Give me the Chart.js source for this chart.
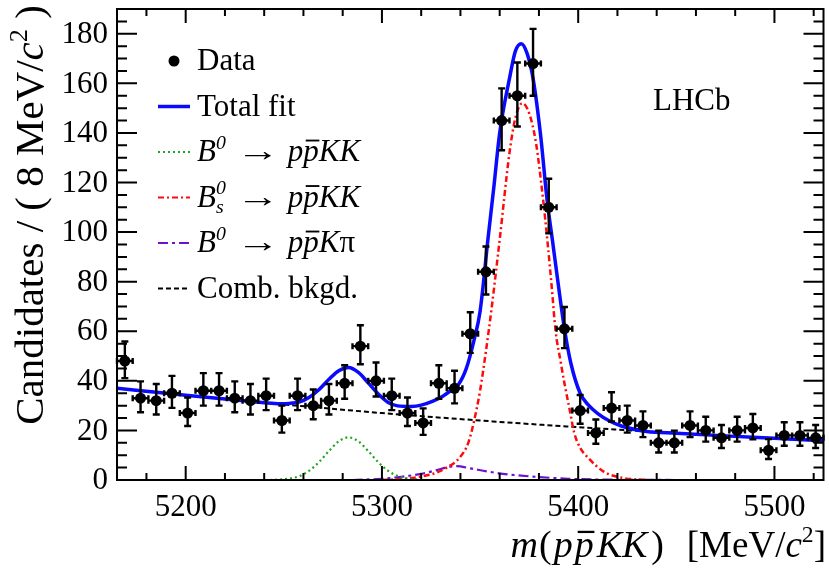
<!DOCTYPE html>
<html>
<head>
<meta charset="utf-8">
<script src="https://cdn.jsdelivr.net/npm/chart.js@4.4.1/dist/chart.umd.min.js"></script>
<style>
  html, body { margin: 0; padding: 0; background: #fff; }
  #wrap { width: 829px; height: 569px; }
</style>
</head>
<body>
<div id="wrap"><canvas id="plot" width="829" height="569"></canvas></div>
<script>
// bin centres (8 MeV bins) and counts
const massBins = [5169, 5177, 5185, 5193, 5201, 5209, 5217, 5225, 5233, 5241, 5249, 5257, 5265, 5273, 5281,
  5289, 5297, 5305, 5313, 5321, 5329, 5337, 5345, 5353, 5361, 5369, 5377, 5385, 5393, 5401,
  5409, 5417, 5425, 5433, 5441, 5449, 5457, 5465, 5473, 5481, 5489, 5497, 5505, 5513, 5521];
const candidates = [48, 33, 32, 35, 27, 36, 36, 33, 32, 34, 24, 34, 30, 32, 39,
  54, 40, 34, 27, 23, 39, 37, 59, 84, 145, 155, 168, 110, 61, 28,
  19, 29, 24, 22, 15, 15, 22, 20, 17, 20, 21, 12, 18, 18, 17];
const errLow = [6.9, 5.7, 5.6, 5.9, 5.2, 6.0, 6.0, 5.7, 5.6, 5.8, 4.9, 5.8, 5.5, 5.6, 6.2,
  7.3, 6.3, 5.8, 5.2, 4.8, 6.2, 6.1, 7.7, 9.2, 12.0, 12.4, 13.0, 10.5, 7.8, 5.3,
  4.4, 5.4, 4.9, 4.7, 3.9, 3.9, 4.7, 4.5, 4.1, 4.5, 4.6, 3.5, 4.2, 4.2, 4.1];
const errHigh = [7.9, 6.8, 6.7, 7.0, 6.3, 7.1, 7.1, 6.8, 6.7, 6.9, 6.0, 6.9, 6.5, 6.7, 7.3,
  8.4, 7.4, 6.9, 6.3, 5.9, 7.3, 7.1, 8.7, 10.2, 13.0, 13.4, 14.0, 11.5, 8.8, 6.3,
  5.4, 6.4, 6.0, 5.7, 4.9, 4.9, 5.7, 5.5, 5.2, 5.5, 5.6, 4.5, 5.3, 5.3, 5.2];
const binHalfWidth = 4;

// fit curves, sampled from the figure
const totalMass = [5165, 5185, 5200, 5220, 5240, 5248, 5253, 5258, 5263, 5268, 5273, 5278, 5283, 5288, 5293,
  5298, 5303, 5308, 5315, 5320, 5326, 5331, 5335, 5339, 5343, 5347, 5350, 5354, 5357, 5360,
  5365, 5368, 5371, 5374, 5377, 5381, 5384, 5387, 5389.5, 5393, 5396.3, 5401, 5405, 5410, 5416,
  5422, 5435, 5450, 5475, 5500, 5525];
const totalFit = [37.0, 35.4, 34.2, 32.7, 31.2, 30.8, 30.9, 31.5, 33.4, 36.5, 40.6, 44.1, 45.4, 43.4, 39.2,
  34.8, 31.4, 29.9, 29.7, 30.2, 31.8, 33.8, 36.0, 38.5, 45.0, 56.6, 68, 97, 118, 140,
  162, 173, 176, 172, 162, 138, 114, 96, 81, 61, 47, 35, 30.4, 26.8, 23.8,
  21.8, 19.6, 18.9, 17.8, 16.8, 15.8];

const b0KKMass = [5243, 5248, 5253, 5258, 5263, 5268, 5273, 5278, 5283, 5288, 5293, 5298, 5303, 5308, 5313, 5318, 5323];
const b0KK = [0, 0.2, 0.6, 1.6, 3.8, 7.3, 11.7, 15.6, 17.2, 15.6, 11.7, 7.3, 3.8, 1.6, 0.6, 0.2, 0];

const bsKKMass = [5300, 5310, 5320, 5328, 5333, 5339, 5344, 5347, 5350, 5353, 5356, 5360, 5365, 5368, 5371.5,
  5375, 5378.5, 5382, 5384.5, 5386.5, 5388.5, 5391, 5393, 5395.5, 5398, 5401, 5405, 5413, 5423, 5435];
const bsKK = [0, 0.4, 1.4, 3, 5, 8.5, 15, 24, 36, 52, 70, 97, 132, 146, 152,
  148, 136, 114, 95, 78, 60, 48, 39, 29, 19, 13, 9, 3.4, 0.8, 0];

const b0KpiMass = [5285, 5300, 5310, 5320, 5328, 5334, 5338, 5345, 5354, 5365, 5380, 5395, 5410, 5430, 5450];
const b0Kpi = [0, 0.5, 1.3, 2.5, 4, 5.3, 5.6, 4.7, 3.4, 2.2, 1.2, 0.5, 0.2, 0.05, 0];

const combMass = [5165, 5200, 5250, 5300, 5350, 5400, 5450, 5500, 5525];
const combBkg = [37.0, 34.2, 30.5, 27.0, 24.0, 21.3, 18.9, 16.8, 15.8];

const yTicks = [0, 20, 40, 60, 80, 100, 120, 140, 160, 180];
const xTicks = [5200, 5300, 5400, 5500];

const SERIF = '"Liberation Serif", "Times New Roman", serif';
const colors = {
  total: "#0a0aff",
  b0KK: "#1fa51f",
  bsKK: "#ff0a0a",
  b0Kpi: "#6a12d0",
  comb: "#000000",
};
const dashes = {
  b0KK: [2, 3],
  bsKK: [6, 3, 2, 3],
  b0Kpi: [10, 4, 3, 4],
  comb: [5, 3],
};

function pairs(xs, ys) {
  return xs.map((x, i) => ({ x, y: ys[i] }));
}

function curve(label, xs, ys, color, width, dash, order) {
  return {
    label,
    data: pairs(xs, ys),
    borderColor: color,
    borderWidth: width,
    borderDash: dash,
    pointRadius: 0,
    fill: false,
    cubicInterpolationMode: "monotone",
    order,
  };
}

// ---- text helpers (math-ish runs: italic, sup, sub, overline, stretch, gap) ----
function runFont(r, size) {
  const s = r.sup || r.sub ? size * 0.64 : size;
  return `${r.it ? "italic " : ""}${s}px ${SERIF}`;
}

function runAdvance(ctx, r, size) {
  ctx.font = runFont(r, size);
  return ctx.measureText(r.t).width * (r.sx || 1) + (r.gap || 0);
}

function runsWidth(ctx, runs, size) {
  let w = 0;
  let held = 0;
  for (const r of runs) {
    const m = runAdvance(ctx, r, size);
    if (r.hold) { held = m; continue; }
    w += Math.max(m, held);
    held = 0;
  }
  return w;
}

function drawRuns(ctx, runs, x, y, size, align) {
  const total = runsWidth(ctx, runs, size);
  let cx = align === "right" ? x - total : align === "center" ? x - total / 2 : x;
  let held = 0;
  ctx.textAlign = "left";
  ctx.textBaseline = "alphabetic";
  for (const r of runs) {
    ctx.font = runFont(r, size);
    const m = ctx.measureText(r.t).width * (r.sx || 1);
    let dy = 0;
    if (r.sup) dy = -size * 0.4;
    if (r.sub) dy = size * 0.22;
    ctx.save();
    ctx.translate(cx, y + dy);
    if (r.sx) ctx.scale(r.sx, 1);
    ctx.fillText(r.t, 0, 0);
    ctx.restore();
    if (r.over) {
      ctx.save();
      ctx.lineWidth = size * 0.06;
      ctx.beginPath();
      ctx.moveTo(cx + size * 0.08, y - size * 0.66);
      ctx.lineTo(cx + m + size * 0.02, y - size * 0.66);
      ctx.stroke();
      ctx.restore();
    }
    const adv = m + (r.gap || 0);
    if (r.hold) { held = adv; continue; }
    cx += Math.max(adv, held);
    held = 0;
  }
}

const arrowRuns = [{ t: " " }, { t: "\u2192", sx: 1.4 }, { t: " " }];
const ppKK = arrowRuns.concat([
  { t: "p", it: true }, { t: "p", it: true, over: true }, { t: "KK", it: true },
]);

const legendRows = [
  { kind: "data", runs: [{ t: "Data" }] },
  { kind: "total", runs: [{ t: "Total fit" }] },
  { kind: "b0KK", runs: [{ t: "B", it: true }, { t: "0", it: true, sup: true, gap: 3 }].concat(ppKK) },
  { kind: "bsKK", runs: [{ t: "B", it: true }, { t: "s", it: true, sub: true, hold: true }, { t: "0", it: true, sup: true, gap: 3 }].concat(ppKK) },
  { kind: "b0Kpi", runs: [{ t: "B", it: true }, { t: "0", it: true, sup: true, gap: 3 }].concat(arrowRuns, [
    { t: "p", it: true }, { t: "p", it: true, over: true }, { t: "K", it: true }, { t: "\u03c0" }]) },
  { kind: "comb", runs: [{ t: "Comb. bkgd." }] },
];

function drawErrorBars(chart) {
  const ctx = chart.ctx;
  const xs = chart.scales.x;
  const ys = chart.scales.y;
  ctx.save();
  ctx.strokeStyle = "#000";
  ctx.lineWidth = 2.4;
  ctx.beginPath();
  massBins.forEach((m, i) => {
    const px = xs.getPixelForValue(m);
    const py = ys.getPixelForValue(candidates[i]);
    const top = ys.getPixelForValue(candidates[i] + errHigh[i]);
    const bot = ys.getPixelForValue(candidates[i] - errLow[i]);
    const left = xs.getPixelForValue(m - binHalfWidth);
    const right = xs.getPixelForValue(m + binHalfWidth);
    ctx.moveTo(px, top); ctx.lineTo(px, bot);
    ctx.moveTo(px - 3.5, top); ctx.lineTo(px + 3.5, top);
    ctx.moveTo(px - 3.5, bot); ctx.lineTo(px + 3.5, bot);
    ctx.moveTo(left, py); ctx.lineTo(right, py);
    ctx.moveTo(left, py - 3); ctx.lineTo(left, py + 3);
    ctx.moveTo(right, py - 3); ctx.lineTo(right, py + 3);
  });
  ctx.stroke();
  ctx.restore();
}

function drawFrame(chart) {
  const ctx = chart.ctx;
  const a = chart.chartArea;
  const xs = chart.scales.x;
  const ys = chart.scales.y;
  ctx.save();
  ctx.strokeStyle = "#000";
  ctx.lineWidth = 2;
  ctx.strokeRect(a.left, a.top, a.right - a.left, a.bottom - a.top);
  ctx.beginPath();
  for (let v = 0; v <= ys.max; v += 5) {
    const py = ys.getPixelForValue(v);
    const len = v % 20 === 0 ? 20 : 10;
    ctx.moveTo(a.left, py); ctx.lineTo(a.left + len, py);
    ctx.moveTo(a.right, py); ctx.lineTo(a.right - len, py);
  }
  for (let v = 5180; v <= xs.max; v += 20) {
    const px = xs.getPixelForValue(v);
    const len = v % 100 === 0 ? 14 : 7;
    ctx.moveTo(px, a.bottom); ctx.lineTo(px, a.bottom - len);
    ctx.moveTo(px, a.top); ctx.lineTo(px, a.top + len);
  }
  ctx.stroke();
  ctx.restore();
}

function drawTexts(chart) {
  const ctx = chart.ctx;
  const a = chart.chartArea;
  const xs = chart.scales.x;
  const ys = chart.scales.y;
  ctx.save();
  ctx.fillStyle = "#000";
  ctx.strokeStyle = "#000";

  ctx.font = `31px ${SERIF}`;
  ctx.textAlign = "right";
  ctx.textBaseline = "middle";
  yTicks.forEach((v) => ctx.fillText(String(v), a.left - 9, ys.getPixelForValue(v) + 1));
  ctx.textAlign = "center";
  ctx.textBaseline = "alphabetic";
  xTicks.forEach((v) => ctx.fillText(String(v), xs.getPixelForValue(v), 516));

  // axis titles
  drawRuns(ctx, [{ t: "[MeV/" }, { t: "c", it: true }, { t: "2", sup: true }, { t: "]" }], 826, 557, 37, "right");
  drawRuns(ctx, [
    { t: "m", it: true, gap: 1 }, { t: "(", gap: 2 }, { t: "p", it: true, gap: 2 }, { t: "p", it: true, over: true, gap: 3 },
    { t: "K", it: true }, { t: "K", it: true, gap: 4 }, { t: ")" },
  ], 664, 557, 38, "right");

  ctx.save();
  ctx.translate(43, 215);
  ctx.rotate(-Math.PI / 2);
  drawRuns(ctx, [
    { t: "Candidates / ( 8 MeV/" }, { t: "c", it: true }, { t: "2", sup: true }, { t: " )" },
  ], 0, 0, 41, "center");
  ctx.restore();

  ctx.font = `31px ${SERIF}`;
  ctx.textAlign = "left";
  ctx.fillText("LHCb", 653, 110);

  // legend
  legendRows.forEach((row, i) => {
    const base = 70 + i * 45.5;
    const my = base - 9;
    ctx.save();
    if (row.kind === "data") {
      ctx.beginPath();
      ctx.arc(174, my, 5.5, 0, Math.PI * 2);
      ctx.fill();
    } else {
      ctx.strokeStyle = colors[row.kind];
      ctx.lineWidth = row.kind === "total" ? 3.5 : 2.2;
      ctx.setLineDash(dashes[row.kind] || []);
      ctx.beginPath();
      ctx.moveTo(158, my);
      ctx.lineTo(190, my);
      ctx.stroke();
    }
    ctx.restore();
    drawRuns(ctx, row.runs, 197, base, 31, "left");
  });
  ctx.restore();
}

const decorations = {
  id: "decorations",
  afterDatasetsDraw(chart) {
    drawErrorBars(chart);
  },
  afterDraw(chart) {
    drawFrame(chart);
    drawTexts(chart);
  },
};

new Chart(document.getElementById("plot").getContext("2d"), {
  type: "line",
  data: {
    datasets: [
      {
        label: "Data",
        data: pairs(massBins, candidates),
        showLine: false,
        pointRadius: 5.5,
        pointBackgroundColor: "#000",
        pointBorderColor: "#000",
        pointBorderWidth: 0,
        order: 0,
      },
      curve("Total fit", totalMass, totalFit, colors.total, 3.5, [], 1),
      curve("B0 -> ppKK", b0KKMass, b0KK, colors.b0KK, 2.2, dashes.b0KK, 2),
      curve("Bs0 -> ppKK", bsKKMass, bsKK, colors.bsKK, 2.5, dashes.bsKK, 3),
      curve("B0 -> ppKpi", b0KpiMass, b0Kpi, colors.b0Kpi, 2.2, dashes.b0Kpi, 4),
      curve("Comb. bkgd.", combMass, combBkg, colors.comb, 2, dashes.comb, 5),
    ],
  },
  options: {
    responsive: false,
    devicePixelRatio: 1,
    animation: false,
    layout: { padding: { left: 117, top: 9, right: 3, bottom: 89 } },
    scales: {
      x: { type: "linear", min: 5165, max: 5525, display: false },
      y: { type: "linear", min: 0, max: 190, display: false },
    },
    plugins: {
      legend: { display: false },
      tooltip: { enabled: false },
    },
  },
  plugins: [decorations],
});
</script>
</body>
</html>
